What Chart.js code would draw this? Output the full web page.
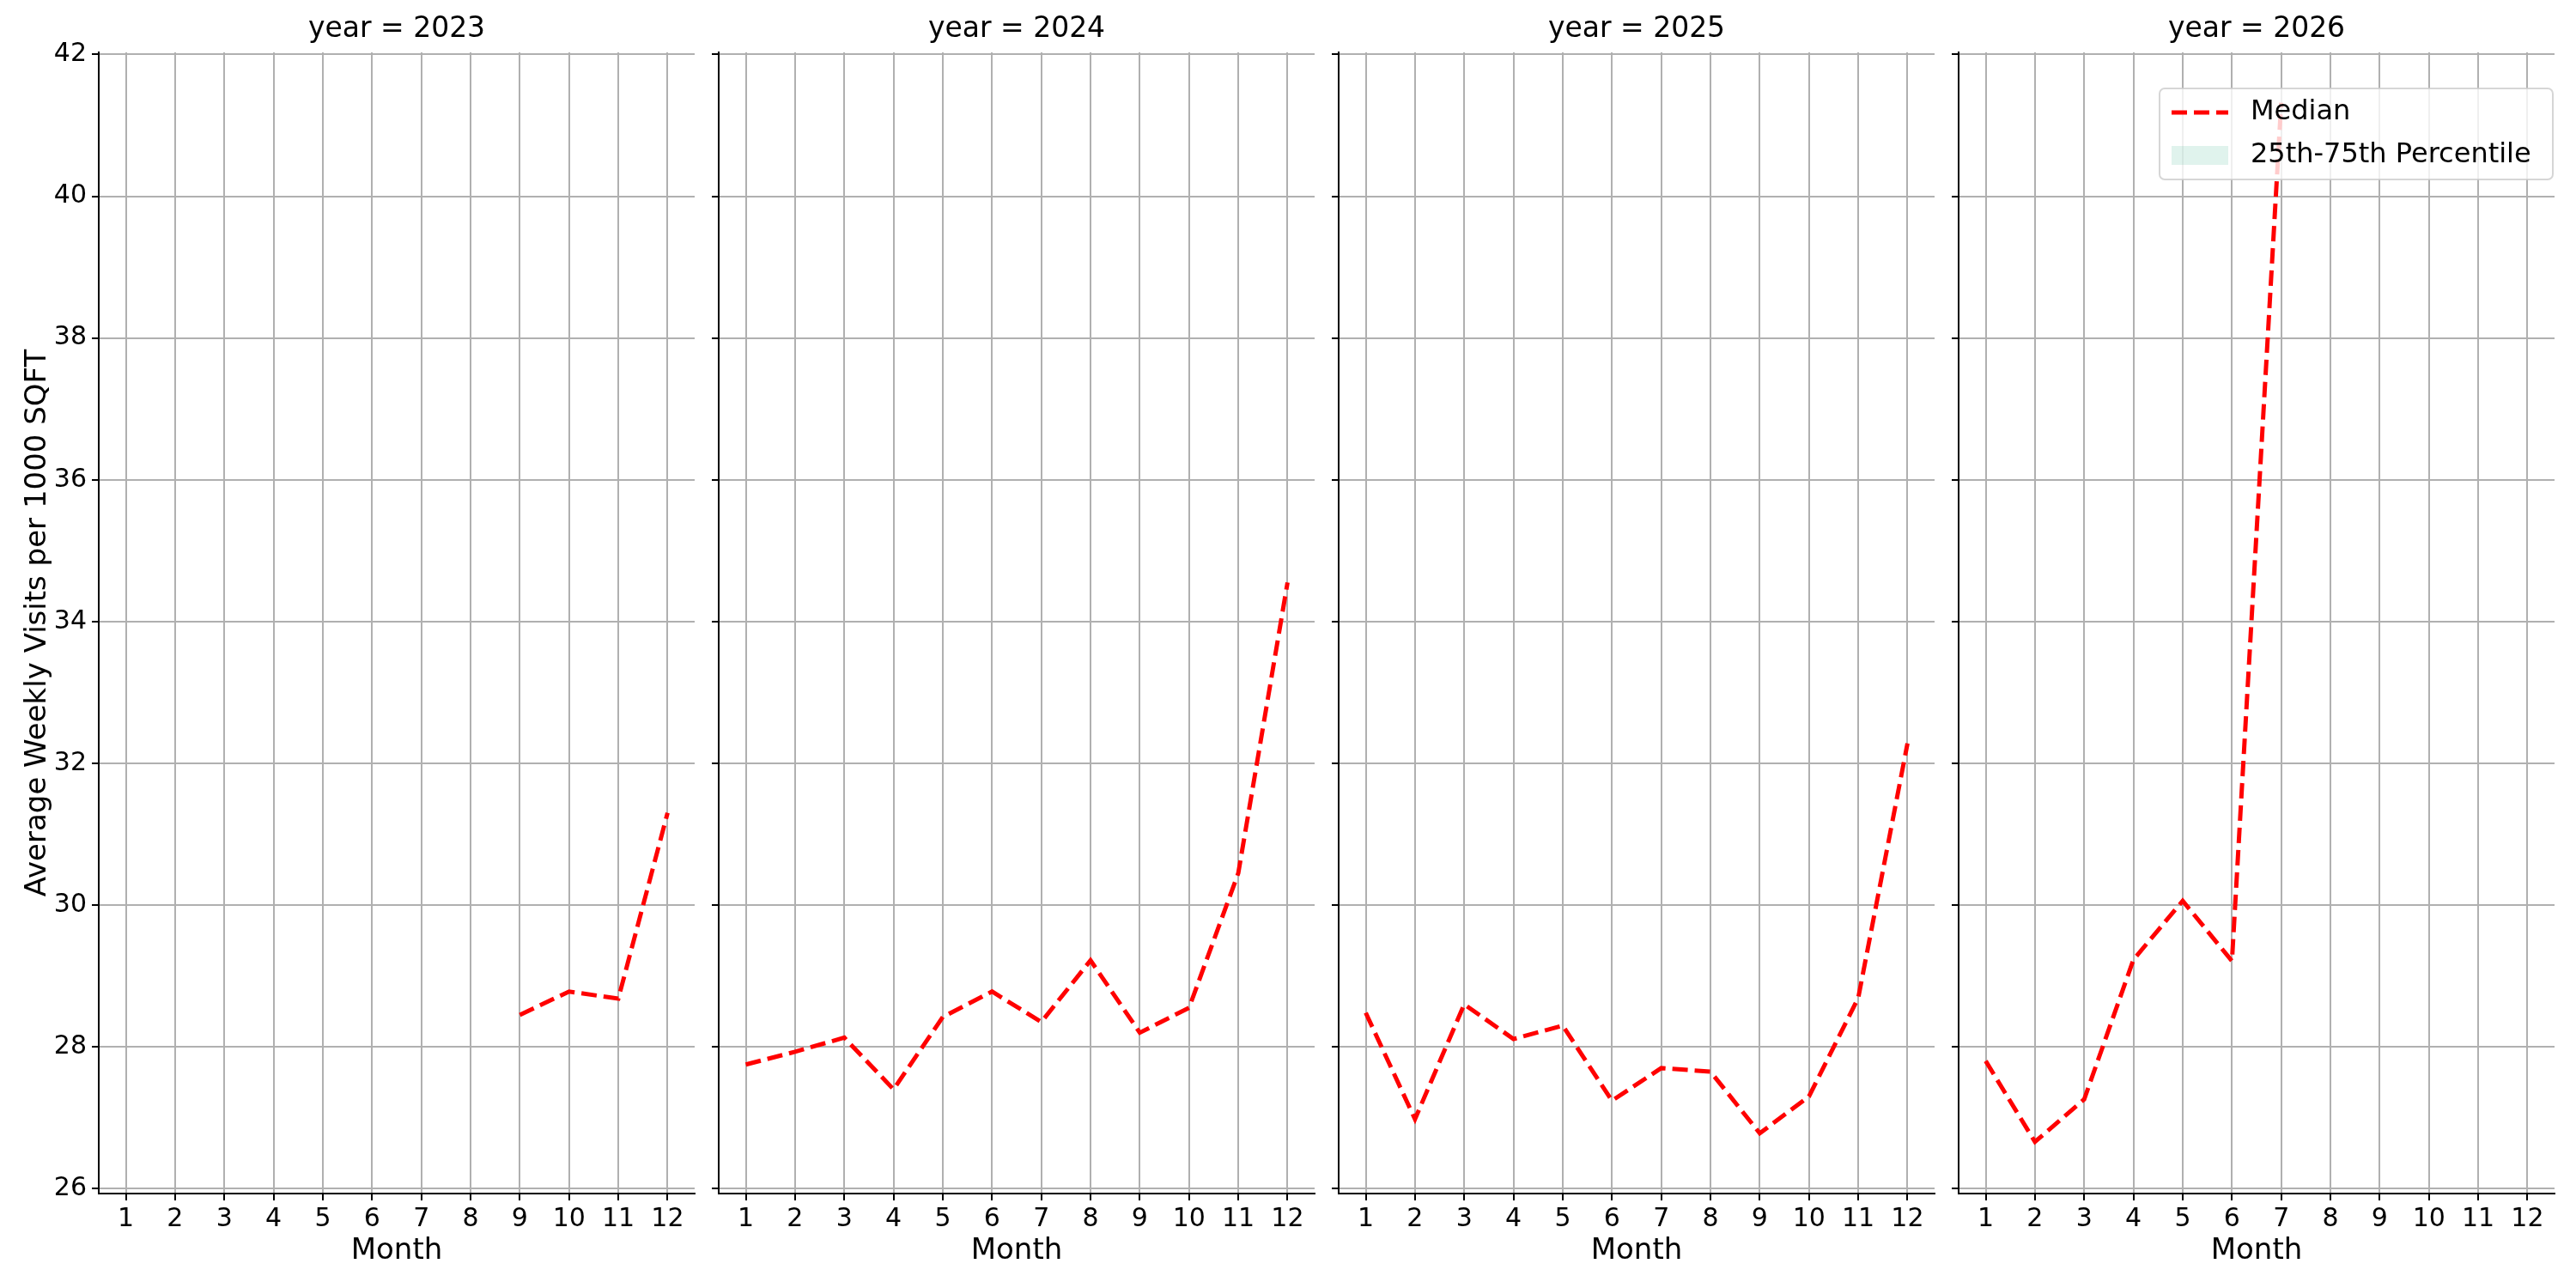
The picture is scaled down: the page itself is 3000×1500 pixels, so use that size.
<!DOCTYPE html>
<html>
<head>
<meta charset="utf-8">
<script src="https://cdn.jsdelivr.net/npm/chart.js@4"></script>
<style>
  body { margin: 0; background: #fff; }
  #wrap { position: relative; width: 3000px; height: 1500px; }
  .panel { position: absolute; top: 0; height: 1500px; }
</style>
</head>
<body>
<div id="wrap"></div>
<script>
const months = [1, 2, 3, 4, 5, 6, 7, 8, 9, 10, 11, 12];
const years = [2023, 2024, 2025, 2026];
const yTicks = [26, 28, 30, 32, 34, 36, 38, 40, 42];

const median2023 = [null, null, null, null, null, null, null, null, 28.45, 28.78, 28.68, 31.3];
const median2024 = [27.75, 27.93, 28.13, 27.4, 28.42, 28.78, 28.35, 29.22, 28.2, 28.55, 30.45, 34.55];
const median2025 = [28.48, 26.98, 28.6, 28.11, 28.3, 27.24, 27.7, 27.65, 26.78, 27.3, 28.69, 32.28];
const median2026 = [27.8, 26.66, 27.26, 29.23, 30.06, 29.21, 41.32, null, null, null, null, null];
const medians = [median2023, median2024, median2025, median2026];

// plot area left edges / width in page pixels
const panelLeft = [115, 837, 1559, 2281];
const panelWidth = 694;
const font = "'DejaVu Sans', sans-serif";

Chart.defaults.font.family = font;
Chart.defaults.color = "#000";

// subplot title above the plot area
const titlePlugin = {
  id: "facetTitle",
  afterDraw(chart, args, opts) {
    const { ctx, chartArea } = chart;
    ctx.save();
    ctx.font = "33px " + font;
    ctx.fillStyle = "#000";
    ctx.textAlign = "center";
    ctx.textBaseline = "bottom";
    ctx.fillText(opts.text, (chartArea.left + chartArea.right) / 2, chartArea.top - 10);
    ctx.restore();
  },
};

// matplotlib-style legend inside the last panel
const boxLegend = {
  id: "boxLegend",
  afterDraw(chart, args, opts) {
    if (!opts.show) return;
    const { ctx, chartArea } = chart;
    const w = 458, h = 106;
    const x = chartArea.right - w - 2, y = chartArea.top + 42;
    ctx.save();
    ctx.globalAlpha = 0.8;
    ctx.fillStyle = "#fff";
    ctx.strokeStyle = "#cccccc";
    ctx.lineWidth = 2;
    ctx.beginPath();
    ctx.roundRect(x, y, w, h, 6);
    ctx.fill();
    ctx.stroke();
    ctx.globalAlpha = 1;
    ctx.font = "32px " + font;
    ctx.textBaseline = "middle";
    ctx.fillStyle = "#000";
    chart.data.datasets.forEach((ds, i) => {
      const cy = y + 28 + i * 50;
      if (ds.borderDash) {
        ctx.strokeStyle = ds.borderColor;
        ctx.lineWidth = ds.borderWidth;
        ctx.setLineDash(ds.borderDash);
        ctx.beginPath();
        ctx.moveTo(x + 14, cy);
        ctx.lineTo(x + 80, cy);
        ctx.stroke();
        ctx.setLineDash([]);
      } else {
        ctx.fillStyle = ds.backgroundColor;
        ctx.fillRect(x + 14, cy - 11, 66, 22);
        ctx.fillStyle = "#000";
      }
      ctx.fillText(ds.label, x + 106, cy);
    });
    ctx.restore();
  },
};

years.forEach((year, i) => {
  const first = i === 0;
  const padLeft = first ? 20 : 0;
  const yAxisW = first ? 95 : 22;
  const div = document.createElement("div");
  div.className = "panel";
  div.style.left = (panelLeft[i] - yAxisW - padLeft) + "px";
  div.style.width = (padLeft + yAxisW + panelWidth + 2) + "px";
  const canvas = document.createElement("canvas");
  div.appendChild(canvas);
  document.getElementById("wrap").appendChild(div);

  new Chart(canvas.getContext("2d"), {
    type: "line",
    data: {
      labels: months,
      datasets: [
        {
          label: "Median",
          data: medians[i].map((v, k) => ({ x: months[k], y: v })),
          borderColor: "#ff0000",
          borderWidth: 5,
          borderDash: [18, 8],
          pointRadius: 0,
          fill: false,
          spanGaps: false,
        },
        {
          label: "25th-75th Percentile",
          data: [],
          backgroundColor: "rgba(102,194,165,0.2)",
          borderWidth: 0,
          pointRadius: 0,
        },
      ],
    },
    plugins: [titlePlugin, boxLegend],
    options: {
      responsive: true,
      maintainAspectRatio: false,
      animation: false,
      layout: { padding: { top: 61, right: 2, left: padLeft, bottom: 18 } },
      scales: {
        x: {
          type: "linear",
          min: 0.45,
          max: 12.55,
          afterBuildTicks: (axis) => { axis.ticks = months.map((m) => ({ value: m })); },
          afterFit: (axis) => { axis.height = 92; },
          ticks: { font: { size: 30 }, padding: 4, maxRotation: 0 },
          grid: { color: "#b0b0b0", lineWidth: 2, tickColor: "#000", tickLength: 8, drawOnChartArea: true },
          border: { color: "#000", width: 2 },
          title: { display: true, text: "Month", font: { size: 34 }, padding: { top: 0 } },
        },
        y: {
          min: 25.93,
          max: 42.03,
          afterBuildTicks: (axis) => { axis.ticks = yTicks.map((v) => ({ value: v })); },
          afterFit: (axis) => { axis.width = yAxisW; },
          ticks: { display: first, font: { size: 30 }, padding: 6 },
          grid: { color: "#b0b0b0", lineWidth: 2, tickColor: "#000", tickLength: 8 },
          border: { color: "#000", width: 2 },
          title: { display: first, text: "Average Weekly Visits per 1000 SQFT", font: { size: 34 }, padding: { bottom: 4 } },
        },
      },
      plugins: {
        legend: { display: false },
        tooltip: { enabled: false },
        facetTitle: { text: "year = " + year },
        boxLegend: { show: i === 3 },
      },
    },
  });
});
</script>
</body>
</html>
